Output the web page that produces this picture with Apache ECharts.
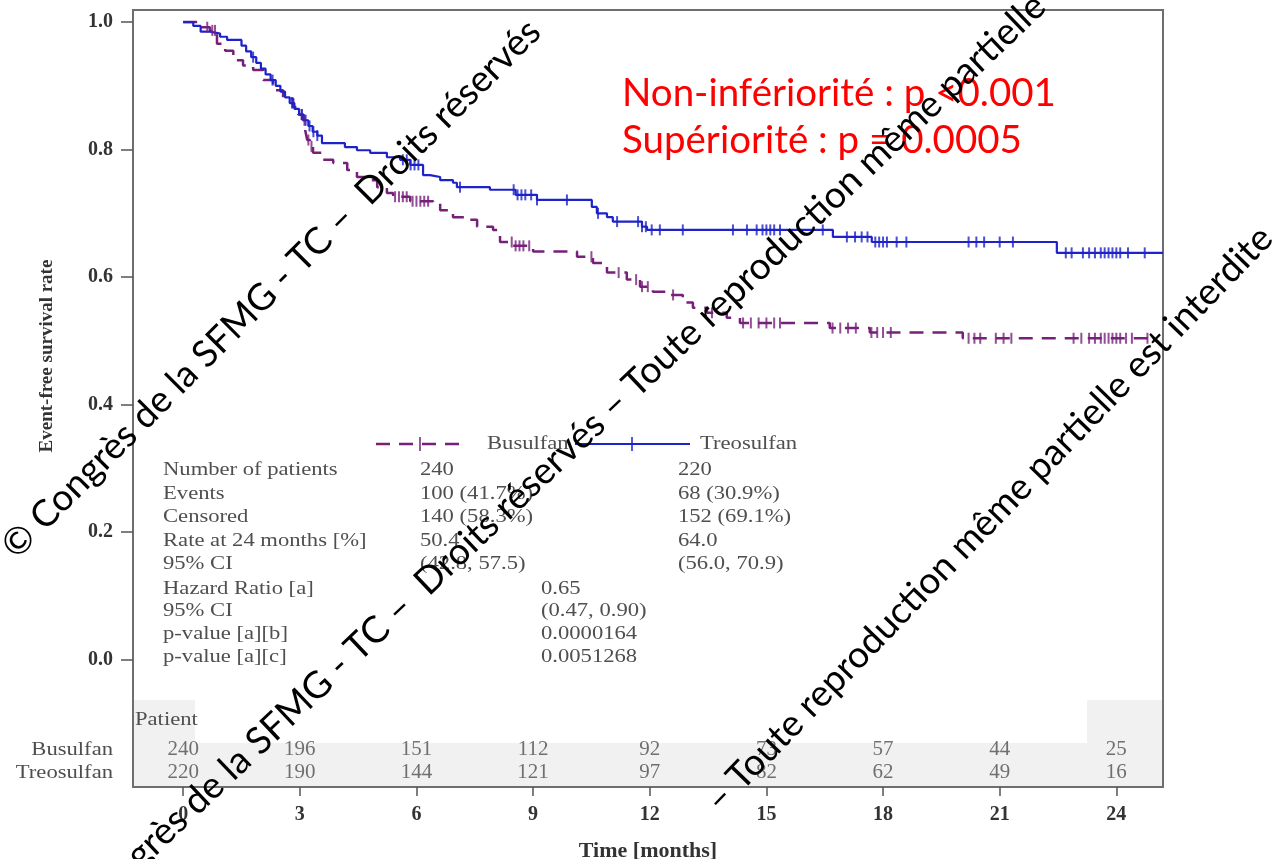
<!DOCTYPE html>
<html>
<head>
<meta charset="utf-8">
<script src="https://cdn.jsdelivr.net/npm/echarts@6/dist/echarts.min.js"></script>
<style>
html,body{margin:0;padding:0;background:#fff;}
#chart{width:1272px;height:859px;}
</style>
</head>
<body>
<div id="chart"></div>
<script>
// Event-free survival (Kaplan-Meier), Busulfan vs Treosulfan
const monthTicks = [0, 3, 6, 9, 12, 15, 18, 21, 24];
const rateTicks = [0, 0.2, 0.4, 0.6, 0.8, 1.0];

// [month, survival] just after each event
const busulfanSteps = [
  [0.44,0.992],[0.69,0.987],[0.87,0.966],[1.08,0.955],[1.29,0.940],[1.54,0.932],[1.80,0.925],
  [2.06,0.909],[2.31,0.893],[2.57,0.880],[2.83,0.867],[2.96,0.855],[3.08,0.846],[3.14,0.830],
  [3.19,0.815],[3.26,0.805],[3.34,0.795],[3.60,0.784],[3.86,0.779],[4.22,0.768],[4.47,0.757],
  [4.73,0.752],[4.99,0.741],[5.24,0.732],[5.40,0.726],[5.84,0.719],[6.43,0.715],[6.61,0.705],
  [6.94,0.694],[7.30,0.690],[7.56,0.679],[7.97,0.674],[8.15,0.655],[8.46,0.649],[9.00,0.640],
  [10.13,0.632],[10.54,0.622],[10.90,0.607],[11.41,0.596],[11.75,0.585],[12.08,0.577],
  [12.44,0.572],[12.85,0.560],[13.11,0.552],[13.47,0.544],[13.98,0.536],[14.32,0.528],
  [16.63,0.520],[17.66,0.513],[20.05,0.504]
];
const busulfanCensored = [
  0.62,0.75,0.82,3.05,3.12,3.22,3.30,5.45,5.55,5.65,5.75,5.90,6.00,6.10,6.20,6.30,
  8.45,8.55,8.65,8.75,8.90,10.50,11.20,11.65,11.80,11.95,12.60,13.60,
  14.40,14.60,14.80,15.00,15.20,15.35,16.70,16.90,17.10,17.30,17.70,17.85,18.00,18.20,
  20.20,20.35,20.50,20.90,21.10,21.30,22.90,23.10,23.30,23.45,23.60,23.70,23.80,23.90,
  24.00,24.10,24.25,24.40,24.80
];
const busulfanLastFollowUp = 24.9;

const treosulfanSteps = [
  [0.26,0.994],[0.45,0.985],[0.69,0.982],[0.95,0.977],[1.13,0.972],[1.50,0.963],[1.62,0.954],
  [1.75,0.945],[1.88,0.936],[2.00,0.927],[2.12,0.918],[2.25,0.909],[2.38,0.900],[2.50,0.891],
  [2.62,0.882],[2.74,0.873],[2.86,0.864],[2.98,0.855],[3.10,0.846],[3.22,0.837],[3.33,0.828],
  [3.45,0.822],[3.57,0.810],[4.16,0.804],[4.47,0.799],[4.81,0.795],[5.24,0.788],[5.58,0.784],
  [5.84,0.776],[6.17,0.760],[6.35,0.757],[6.61,0.752],[6.94,0.748],[7.04,0.741],[7.89,0.737],
  [8.55,0.729],[9.10,0.721],[10.51,0.710],[10.64,0.700],[10.90,0.694],[11.05,0.687],
  [11.80,0.679],[11.93,0.674],[16.71,0.663],[17.71,0.655],[22.47,0.638]
];
const treosulfanCensored = [
  1.80,2.30,2.80,3.05,3.15,3.25,3.35,3.45,5.65,5.75,5.85,5.95,6.05,7.12,
  8.50,8.60,8.70,8.80,8.95,9.10,9.87,10.67,11.16,11.70,11.80,11.90,12.05,12.26,12.85,
  14.14,14.50,14.75,14.90,15.00,15.10,15.20,15.35,16.45,17.07,17.28,17.45,17.60,
  17.80,17.90,18.00,18.10,18.35,18.60,20.20,20.40,20.60,21.00,21.34,22.70,22.85,23.14,
  23.30,23.45,23.60,23.70,23.80,23.90,24.00,24.10,24.30,24.73
];
const treosulfanLastFollowUp = 25.2;

const busulfanAtRisk = [240, 196, 151, 112, 92, 73, 57, 44, 25];
const treosulfanAtRisk = [220, 190, 144, 121, 97, 82, 62, 49, 16];

const statLabels = ['Number of patients','Events','Censored','Rate at 24 months [%]','95% CI',
  'Hazard Ratio [a]','95% CI','p-value [a][b]','p-value [a][c]'];
const busulfanStats = ['240','100 (41.7%)','140 (58.3%)','50.4','(42.8, 57.5)'];
const treosulfanStats = ['220','68 (30.9%)','152 (69.1%)','64.0','(56.0, 70.9)'];
const comparisonStats = ['0.65','(0.47, 0.90)','0.0000164','0.0051268'];

const testLines = ['Non-infériorité : p <0.001', 'Supériorité : p = 0.0005'];
const noticeLines = [
  '© Congrès de la SFMG - TC –  Droits réservés',
  '© Congrès de la SFMG - TC –  Droits réservés – Toute reproduction même partielle est interdite',
  '– Toute reproduction même partielle est interdite'
];

// ---- styling ----
const PURPLE = '#76207a';
const BLUE = '#1d22c9';
const SERIF = '"Liberation Serif", "Times New Roman", serif';
const GREY_TXT = '#4f4f4f';
const TXT_FONT = '19.5px ' + SERIF;
const TXT_SX = 1.16;   // table text is set a little wide

function curve(steps, lastT) {
  const pts = [[0, 1]].concat(steps);
  pts.push([lastT, steps[steps.length - 1][1]]);
  return pts;
}
function survivalAt(steps, t) {
  let s = 1;
  for (const [et, es] of steps) { if (et <= t) s = es; else break; }
  return s;
}
function censorPoints(steps, times) {
  return times.map(t => [t, survivalAt(steps, t)]);
}

// rows of the numbers-at-risk table, in axis units
const RISK_ROW_Y = [-0.141, -0.177];
function riskPoints(counts, row) {
  return counts.map((n, i) => [monthTicks[i], RISK_ROW_Y[row], n]);
}

function label(text, x, y, align) {
  return {type:'text', x:x, y:y, scaleX:TXT_SX,
    style:{text:text, font:TXT_FONT, fill:GREY_TXT, textAlign:align || 'left', textVerticalAlign:'middle'}};
}

const chart = echarts.init(document.getElementById('chart'), null, {renderer: 'canvas'});

const graphics = [];
// numbers-at-risk background
graphics.push({type:'rect', z:-10, shape:{x:134, y:700, width:1028, height:86}, style:{fill:'#f1f1f1'}});
graphics.push({type:'rect', z:-9, shape:{x:195, y:700, width:892, height:43}, style:{fill:'#ffffff'}});
graphics.push(label('Patient', 135, 720));
graphics.push(label('Busulfan', 113, 750, 'right'));
graphics.push(label('Treosulfan', 113, 773, 'right'));

// y axis title
graphics.push({type:'text', x:47, y:356, rotation:Math.PI/2,
  style:{text:'Event-free survival rate', font:'bold 19px ' + SERIF, fill:'#333', textAlign:'center', textVerticalAlign:'middle'}});

// legend
graphics.push({type:'line', shape:{x1:376, y1:444, x2:460, y2:444}, style:{stroke:PURPLE, lineWidth:2.5, lineDash:[14,9]}});
graphics.push({type:'line', shape:{x1:420, y1:437, x2:420, y2:451}, style:{stroke:PURPLE, lineWidth:1.5}});
graphics.push(label('Busulfan', 487, 444));
graphics.push({type:'line', shape:{x1:575, y1:444, x2:690, y2:444}, style:{stroke:BLUE, lineWidth:2}});
graphics.push({type:'line', shape:{x1:632, y1:437, x2:632, y2:451}, style:{stroke:BLUE, lineWidth:1.5}});
graphics.push(label('Treosulfan', 700, 444));

// summary table
const rowY = [470, 494, 517, 541, 564, 589, 611, 634, 657];
statLabels.forEach((s, i) => graphics.push(label(s, 163, rowY[i])));
busulfanStats.forEach((s, i) => graphics.push(label(s, 420, rowY[i])));
treosulfanStats.forEach((s, i) => graphics.push(label(s, 678, rowY[i])));
comparisonStats.forEach((s, i) => graphics.push(label(s, 541, rowY[i + 5])));

// test results
testLines.forEach((s, i) => graphics.push({type:'text', x:622, y:94 + i * 47, z:50,
  style:{text:s, font:'38.5px Lato, "Open Sans", sans-serif', fill:'#ff0000', textAlign:'left', textVerticalAlign:'middle'}}));

// diagonal copyright notice: start point, angle and size of each pass
const noticePlacement = [[8, 552, 45, 37], [55, 935, 43.5, 37.3], [712, 806, 46, 37]];
noticeLines.forEach((s, i) => {
  const [sx, sy, deg, size] = noticePlacement[i];
  graphics.push({type:'text', x:sx, y:sy, rotation:deg * Math.PI / 180, z:100,
    style:{text:s, font:size + 'px Lato, "Open Sans", sans-serif', fill:'#000', textAlign:'left', textVerticalAlign:'middle'}});
});

const riskLabel = {show:true, position:'inside', formatter:p => p.value[2],
  fontFamily:SERIF, fontSize:21, color:GREY_TXT};

chart.setOption({
  animation:false,
  backgroundColor:'#fff',
  grid:{left:133, right:109, top:10, bottom:72, outerBoundsMode:'none', containLabel:false,
    show:true, borderColor:'#6e6e6e', borderWidth:2, backgroundColor:'transparent'},
  xAxis:{
    type:'value', min:-1.29, max:25.2,
    axisLine:{show:false, onZero:false},
    axisTick:{show:true, customValues:monthTicks, length:9, lineStyle:{color:'#555', width:1.5}},
    axisLabel:{customValues:monthTicks, margin:18, fontFamily:SERIF, fontWeight:'bold', fontSize:20, color:'#333'},
    splitLine:{show:false},
    name:'Time [months]', nameLocation:'middle', nameGap:53,
    nameTextStyle:{fontFamily:SERIF, fontWeight:'bold', fontSize:22, color:'#333'}
  },
  yAxis:{
    type:'value', min:-0.2, max:1.019,
    axisLine:{show:false, onZero:false},
    axisTick:{show:true, customValues:rateTicks, length:12, lineStyle:{color:'#555', width:1.5}},
    axisLabel:{customValues:rateTicks, margin:20, formatter:v => v.toFixed(1),
      fontFamily:SERIF, fontWeight:'bold', fontSize:20, color:'#333'},
    splitLine:{show:false}
  },
  graphic:{elements:graphics},
  series:[
    {name:'Busulfan', type:'line', step:'end', showSymbol:false, z:3,
      data:curve(busulfanSteps, busulfanLastFollowUp),
      lineStyle:{color:PURPLE, width:2.5, type:[14, 9]}},
    {name:'Busulfan censored', type:'scatter', symbol:'rect', symbolSize:[2, 11], z:4,
      data:censorPoints(busulfanSteps, busulfanCensored), itemStyle:{color:PURPLE}},
    {name:'Treosulfan', type:'line', step:'end', showSymbol:false, z:3,
      data:curve(treosulfanSteps, treosulfanLastFollowUp),
      lineStyle:{color:BLUE, width:2.2}},
    {name:'Treosulfan censored', type:'scatter', symbol:'rect', symbolSize:[2, 11], z:4,
      data:censorPoints(treosulfanSteps, treosulfanCensored), itemStyle:{color:BLUE}},
    {name:'Busulfan at risk', type:'scatter', symbolSize:1, itemStyle:{color:'rgba(0,0,0,0)'},
      data:riskPoints(busulfanAtRisk, 0), label:riskLabel},
    {name:'Treosulfan at risk', type:'scatter', symbolSize:1, itemStyle:{color:'rgba(0,0,0,0)'},
      data:riskPoints(treosulfanAtRisk, 1), label:riskLabel}
  ]
});
</script>
</body>
</html>
